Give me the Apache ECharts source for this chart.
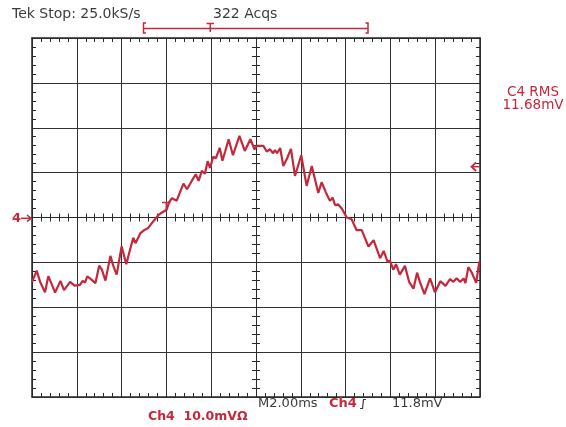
<!DOCTYPE html>
<html><head><meta charset="utf-8">
<script src="https://cdn.jsdelivr.net/npm/echarts@6/dist/echarts.min.js"></script>
<style>html,body{margin:0;padding:0;background:#fff}#c{width:566px;height:427px}</style>
</head><body><div id="c"></div>
<script>
// Time in ms (2.00 ms/div, 10 divisions), Ch4 voltage in mV (10.0 mV/div, 8 divisions)
const timeMs = [-10.00,-9.79,-9.64,-9.42,-9.27,-9.13,-8.97,-8.73,-8.57,-8.30,-8.10,-7.86,-7.74,-7.63,-7.53,-7.37,-7.29,-7.17,-7.00,-6.89,-6.72,-6.50,-6.37,-6.22,-6.00,-5.79,-5.63,-5.48,-5.38,-5.16,-4.96,-4.82,-4.58,-4.36,-4.21,-4.13,-3.99,-3.88,-3.75,-3.54,-3.24,-3.08,-2.87,-2.69,-2.56,-2.42,-2.28,-2.16,-2.05,-1.91,-1.79,-1.62,-1.50,-1.38,-1.22,-1.03,-0.74,-0.50,-0.25,-0.07,0.04,0.33,0.48,0.63,0.75,0.85,0.94,1.08,1.22,1.38,1.56,1.74,2.02,2.26,2.49,2.78,2.93,3.11,3.30,3.42,3.53,3.66,3.83,4.05,4.27,4.49,4.72,5.02,5.25,5.54,5.70,5.87,5.98,6.13,6.25,6.42,6.65,6.84,7.03,7.19,7.32,7.52,7.77,7.99,8.23,8.46,8.66,8.81,8.96,9.11,9.27,9.35,9.48,9.63,9.83,9.97,10.00];
const ch4mV = [-14.41,-11.85,-14.30,-16.64,-13.07,-14.74,-16.75,-14.12,-16.19,-14.34,-15.19,-15.01,-14.12,-14.48,-13.14,-13.74,-13.36,-14.63,-10.73,-11.51,-14.07,-8.55,-10.78,-12.74,-6.44,-10.40,-7.28,-4.50,-5.72,-3.50,-2.72,-2.38,-0.82,0.51,1.07,1.29,1.74,3.41,4.30,3.74,7.53,6.30,8.15,9.64,8.15,10.38,9.75,12.54,11.05,13.54,13.21,15.54,12.65,14.65,17.44,13.87,18.17,14.83,17.44,15.21,15.95,15.95,14.70,15.21,14.32,14.99,14.32,15.50,11.49,13.09,15.28,9.26,13.87,7.04,11.49,5.48,7.86,5.70,3.70,4.41,2.74,2.96,2.00,0.00,-0.38,-2.83,-2.83,-6.50,-5.06,-9.06,-7.44,-9.84,-9.67,-11.62,-10.40,-12.74,-10.78,-14.41,-15.86,-12.29,-14.41,-17.08,-13.58,-16.70,-14.19,-15.23,-13.74,-14.34,-13.52,-14.34,-13.58,-14.63,-11.07,-12.25,-14.56,-9.80,-9.80];
const xRange = [-10, 10], xStep = 2;
const yRange = [-40, 40], yStep = 10;
const headerLeft = 'Tek Stop: 25.0kS/s';
const headerMid = '322 Acqs';
const measureLabel = ['C4 RMS', '11.68mV'];
const footerScale = 'Ch4  10.0mV\u03A9';
const footerTime = 'M2.00ms';
const footerTrigCh = 'Ch4';
const footerTrigLevel = '11.8mV';

const RED = '#c4283a', INK = '#2a2a2a', TXT = '#3c3c3c';
const FONT = '"DejaVu Sans", Verdana, sans-serif';

function xAx(pos, onZero, split, len) {
  return {
    type: 'value', min: xRange[0], max: xRange[1], interval: xStep, position: pos,
    axisLine: { show: true, onZero: onZero, onZeroAxisIndex: 0, lineStyle: { color: INK, width: onZero ? 1 : 1.5 } },
    axisTick: { show: true, inside: true, length: len, lineStyle: { color: INK, width: 1 } },
    minorTick: { show: true, splitNumber: 5, length: len, lineStyle: { color: INK, width: 1 } },
    axisLabel: { show: false },
    splitLine: { show: split, lineStyle: { color: '#333', width: 1 } },
    minorSplitLine: { show: false }
  };
}
function yAx(pos, onZero, split, len) {
  return {
    type: 'value', min: yRange[0], max: yRange[1], interval: yStep, position: pos,
    axisLine: { show: true, onZero: onZero, onZeroAxisIndex: 0, lineStyle: { color: INK, width: onZero ? 1 : 1.5 } },
    axisTick: { show: true, inside: true, length: len, lineStyle: { color: INK, width: 1 } },
    minorTick: { show: true, splitNumber: 5, length: len, lineStyle: { color: INK, width: 1 } },
    axisLabel: { show: false },
    splitLine: { show: split, lineStyle: { color: '#333', width: 1 } },
    minorSplitLine: { show: false }
  };
}

const chart = echarts.init(document.getElementById('c'), null, { renderer: 'canvas' });
function txt(x, y, s, color, opts) {
  return Object.assign({ type: 'text', x: x, y: y, z: 100,
    style: Object.assign({ text: s, fill: color, font: '13px ' + FONT, align: 'left', verticalAlign: 'middle' }, opts || {}) });
}
const option = {
  animation: false,
  backgroundColor: '#fff',
  grid: { left: 32, right: 86, top: 38, bottom: 30, outerBoundsMode: 'none', containLabel: false },
  xAxis: [ xAx('bottom', false, true, 4), xAx('top', false, false, 4), xAx('bottom', true, false, 4), xAx('top', true, false, 4) ],
  yAxis: [ yAx('left', false, true, 4), yAx('right', false, false, 4), yAx('left', true, false, 4), yAx('right', true, false, 4) ],
  series: [{
    type: 'line', xAxisIndex: 0, yAxisIndex: 0, symbol: 'none', z: 10,
    lineStyle: { color: RED, width: 2.2 },
    data: timeMs.map((t, i) => [t, ch4mV[i]])
  }],
  graphic: [
    txt(12, 14, headerLeft, TXT, { font: '14px ' + FONT }),
    txt(213, 14, headerMid, TXT, { font: '14px ' + FONT }),
    // record bracket
    { type: 'polyline', z: 100, shape: { points: [[146, 23], [143.5, 23], [143.5, 33], [146, 33]] }, style: { stroke: RED, lineWidth: 1.5, fill: null } },
    { type: 'polyline', z: 100, shape: { points: [[365.5, 23], [368, 23], [368, 33], [365.5, 33]] }, style: { stroke: RED, lineWidth: 1.5, fill: null } },
    { type: 'line', z: 100, shape: { x1: 143.5, y1: 28.5, x2: 368, y2: 28.5 }, style: { stroke: RED, lineWidth: 1.5 } },
    { type: 'line', z: 100, shape: { x1: 206.5, y1: 23.5, x2: 214, y2: 23.5 }, style: { stroke: RED, lineWidth: 1.5 } },
    { type: 'line', z: 100, shape: { x1: 210.3, y1: 23.5, x2: 210.3, y2: 32 }, style: { stroke: RED, lineWidth: 1.5 } },
    // measurement
    txt(533, 92, measureLabel[0], RED, { align: 'center', font: '13.5px ' + FONT }),
    txt(533, 105, measureLabel[1], RED, { align: 'center', font: '13.5px ' + FONT }),
    // trigger level arrow (right)
    { type: 'polyline', z: 100, shape: { points: [[476, 162.5], [471.5, 166.7], [476, 171]] }, style: { stroke: RED, lineWidth: 1.8, fill: null } },
    { type: 'line', z: 100, shape: { x1: 471.5, y1: 166.7, x2: 480, y2: 166.7 }, style: { stroke: RED, lineWidth: 1.5 } },
    // channel ground marker (left)
    txt(12, 219, '4', RED, { font: 'bold 13px ' + FONT }),
    { type: 'line', z: 100, shape: { x1: 21, y1: 218.3, x2: 31, y2: 218.3 }, style: { stroke: RED, lineWidth: 1.5 } },
    { type: 'polyline', z: 100, shape: { points: [[27, 215], [31, 218.3], [27, 221.6]] }, style: { stroke: RED, lineWidth: 1.5, fill: null } },
    // trigger point marker on trace
    { type: 'line', z: 100, shape: { x1: 162, y1: 202.5, x2: 170.5, y2: 202.5 }, style: { stroke: RED, lineWidth: 1.5 } },
    { type: 'line', z: 100, shape: { x1: 166.3, y1: 202.5, x2: 166.3, y2: 211 }, style: { stroke: RED, lineWidth: 1.5 } },
    // footer
    txt(258, 404, footerTime, TXT),
    txt(329, 404, footerTrigCh, RED, { font: 'bold 13px ' + FONT }),
    { type: 'polyline', z: 100, shape: { points: [[360, 408.5], [362.5, 408.5], [363.5, 399.5], [366, 399.5]] }, style: { stroke: TXT, lineWidth: 1.2, fill: null } },
    txt(392, 404, footerTrigLevel, TXT),
    txt(148, 417, footerScale, RED, { font: 'bold 12.5px ' + FONT })
  ]
};
chart.setOption(option);
</script>
</body></html>
